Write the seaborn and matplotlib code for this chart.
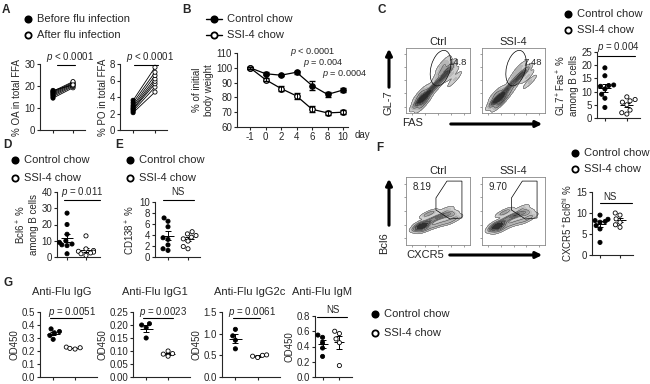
import numpy as np
import pandas as pd
import matplotlib
matplotlib.use("Agg")
import matplotlib.pyplot as plt
import seaborn as sns
from matplotlib.lines import Line2D
from matplotlib.patches import Ellipse, Polygon, FancyArrowPatch
from matplotlib.ticker import FormatStrFormatter
from matplotlib.colors import LinearSegmentedColormap

# =============================
# Data
# =============================

# A - fatty acids before / after flu infection (paired mice)
oa_before = [14.5, 15.2, 15.8, 16.3, 16.8, 17.2, 17.6, 18.0]
oa_after = [19.2, 19.8, 20.3, 20.8, 21.2, 21.6, 22.0, 20.5]
po_before = [2.1, 2.3, 2.5, 2.6, 2.8, 3.0, 3.3, 3.6]
po_after = [4.6, 5.2, 5.6, 5.9, 6.2, 6.6, 7.0, 7.6]

# B - body weight
days = ['-1', '0', '2', '4', '6', '8', '10']
bw_ctrl = [100, 96, 95, 97, 88, 82, 85]
bw_ctrl_sem = [0.5, 1.0, 0.8, 1.0, 3.0, 1.5, 1.5]
bw_ssi = [100, 92, 86, 81, 72, 69.5, 70]
bw_ssi_sem = [0.5, 1.2, 1.5, 2.0, 2.0, 1.2, 1.2]

# C - GL7+Fas+ among B cells
gc_ctrl = [19, 16, 12.5, 12.3, 12, 11, 9, 7.5, 4]
gc_ssi = [8, 7, 6.5, 6, 5, 3, 2, 1.5]

# D - Bcl6+ among B cells
bcl6_ctrl = [27, 20, 14, 10, 9, 8, 7.5, 7, 2]
bcl6_ssi = [13, 5, 4, 3.5, 3, 2.5, 2, 1]

# E - CD138+
cd138_ctrl = [7.1, 6.5, 5.5, 3.5, 3.2, 2.2, 1.5, 1.2]
cd138_ssi = [4.6, 4.2, 3.9, 3.6, 3.3, 2.9, 1.9, 1.5]

# F - CXCR5+Bcl6hi
tfh_ctrl = [9.5, 8.5, 8.2, 8.0, 7.8, 7.0, 6.2, 3.0]
tfh_ssi = [10.0, 9.5, 8.6, 7.8, 7.2, 6.6]

# G - anti-flu antibodies (OD450)
igg_ctrl = [0.37, 0.35, 0.34, 0.32, 0.29]
igg_ssi = [0.23, 0.225, 0.22, 0.215]
igg1_ctrl = [0.205, 0.20, 0.19, 0.15]
igg1_ssi = [0.10, 0.09, 0.088, 0.08]
igg2c_ctrl = [1.1, 0.95, 0.85, 0.65]
igg2c_ssi = [0.51, 0.50, 0.48, 0.45]
igm_ctrl = [0.55, 0.52, 0.45, 0.38, 0.27]
igm_ssi = [0.60, 0.57, 0.50, 0.45, 0.15]

# flow cytometry sketches (log-decade units 0-5)
gc_flow_ctrl_x = [1.0, 1.2, 1.3, 1.4, 1.5, 1.2, 1.6, 1.8, 2.0, 2.2, 2.5, 2.8, 3.0, 3.2, 3.4, 3.6, 3.0, 2.9, 3.3, 3.1, 1.1, 1.4, 2.4, 3.8, 2.6, 1.3, 1.2, 1.0]
gc_flow_ctrl_y = [0.9, 1.0, 1.2, 0.8, 1.1, 1.4, 1.3, 1.6, 1.9, 2.1, 2.4, 2.6, 2.9, 3.1, 3.3, 3.0, 3.6, 3.8, 3.5, 3.2, 1.5, 0.7, 2.0, 2.6, 3.0, 1.0, 1.1, 1.0]
gc_flow_ssi_x = [1.0, 1.2, 1.3, 1.4, 1.5, 1.2, 1.6, 1.8, 2.0, 2.2, 2.5, 2.8, 3.0, 3.2, 3.4, 3.6, 3.0, 3.3, 1.1, 1.4, 2.4, 3.8, 2.6, 1.7, 2.1, 1.3, 1.2, 1.0]
gc_flow_ssi_y = [0.9, 1.0, 1.2, 0.8, 1.1, 1.4, 1.3, 1.6, 1.9, 2.1, 2.4, 2.6, 2.9, 3.1, 3.2, 2.8, 3.5, 3.0, 1.5, 0.7, 2.0, 2.4, 2.9, 1.0, 1.5, 1.0, 1.1, 1.0]
tfh_flow_ctrl_x = [1.0, 1.2, 1.3, 1.1, 1.5, 1.4, 1.8, 2.1, 2.4, 2.7, 3.0, 3.3, 3.6, 3.9, 2.2, 2.8, 3.4, 1.6, 2.0, 3.2, 1.2, 1.3, 1.2, 1.1]
tfh_flow_ctrl_y = [1.3, 1.4, 1.2, 1.6, 1.5, 1.1, 1.7, 1.9, 2.0, 2.1, 2.2, 2.3, 2.2, 2.0, 1.4, 1.6, 1.7, 2.2, 2.4, 2.6, 1.3, 1.5, 1.4, 1.3]
tfh_flow_ssi_x = [1.0, 1.2, 1.3, 1.1, 1.5, 1.4, 1.8, 2.1, 2.4, 2.7, 3.0, 3.3, 3.6, 3.9, 2.2, 2.8, 3.4, 1.6, 2.0, 3.2, 1.2, 1.3, 1.2, 1.1]
tfh_flow_ssi_y = [1.3, 1.4, 1.2, 1.6, 1.5, 1.1, 1.8, 2.0, 2.1, 2.2, 2.3, 2.4, 2.3, 2.1, 1.5, 1.7, 1.8, 2.3, 2.5, 2.7, 1.3, 1.5, 1.4, 1.3]

# =============================
# Style
# =============================
sns.set_style('ticks')
plt.rcParams['font.family'] = ['Liberation Sans', 'DejaVu Sans']
plt.rcParams['mathtext.fontset'] = 'custom'
plt.rcParams['mathtext.rm'] = 'Liberation Sans'
plt.rcParams['mathtext.it'] = 'Liberation Sans:italic'
plt.rcParams['axes.linewidth'] = 0.8

flow_cmap = LinearSegmentedColormap.from_list('flow', ['#d8d8d8', '#909090', '#4a4a4a', '#151515'])

W, H = 650, 384
fig = plt.figure(figsize=(6.5, 3.84), dpi=100)


def add_ax(x0, y0, x1, y1):
    return fig.add_axes([x0 / W, 1 - y1 / H, (x1 - x0) / W, (y1 - y0) / H])


def ftext(x, y, s, **kw):
    kw.setdefault('fontsize', 7)
    kw.setdefault('va', 'center')
    fig.text(x / W, 1 - y / H, s, **kw)


def fline(x0, x1, y):
    fig.add_artist(Line2D([x0 / W, x1 / W], [1 - y / H] * 2, transform=fig.transFigure,
                          color='black', lw=0.8))


def fdot(x, y, filled=True, line=False):
    if line:
        fig.add_artist(Line2D([(x - 8) / W, (x + 8) / W], [1 - y / H] * 2,
                              transform=fig.transFigure, color='black', lw=1.0))
    fig.add_artist(Line2D([x / W], [1 - y / H], marker='o', ms=4.5, mew=1.3,
                          mfc='black' if filled else 'white', mec='black',
                          transform=fig.transFigure))


def legend2(x, y1, y2, t1, t2, line=False, size=8):
    fdot(x, y1, True, line)
    fdot(x, y2, False, line)
    off = 13 if line else 9
    ftext(x + off, y1, t1, fontsize=size)
    ftext(x + off, y2, t2, fontsize=size)


def farrow(x0, y0, x1, y1):
    fig.add_artist(FancyArrowPatch((x0 / W, 1 - y0 / H), (x1 / W, 1 - y1 / H),
                                   transform=fig.transFigure, arrowstyle='-|>',
                                   mutation_scale=9, lw=2.2, color='black'))


def style(ax, ylim, yticks, ylabel, fmt=None):
    ax.set_ylim(*ylim)
    ax.set_yticks(yticks)
    if fmt:
        ax.yaxis.set_major_formatter(FormatStrFormatter(fmt))
    ax.set_ylabel(ylabel, fontsize=7, labelpad=1.5)
    ax.set_xlabel('')
    ax.tick_params(labelsize=7, length=2.5, width=0.8, pad=1)
    sns.despine(ax=ax)


def dotplot(rect, ctrl, ssi, xlim, ylim, yticks, ylabel, fmt=None, size=3):
    ax = add_ax(*rect)
    df = pd.DataFrame({'group': ['Control'] * len(ctrl) + ['SSI-4'] * len(ssi),
                       'value': ctrl + ssi})
    sns.swarmplot(data=df, x='group', y='value', hue='group', order=['Control', 'SSI-4'],
                  palette={'Control': 'black', 'SSI-4': 'white'}, edgecolor='black',
                  linewidth=0.6, size=size, legend=False, ax=ax)
    for i, vals in enumerate([ctrl, ssi]):
        m = np.mean(vals)
        s = np.std(vals, ddof=1) / np.sqrt(len(vals))
        ax.hlines(m, i - 0.3, i + 0.3, color='black', lw=0.7)
        ax.errorbar(i, m, yerr=s, color='black', lw=0.7, capsize=2, capthick=0.7)
    ax.set_xlim(*xlim)
    ax.set_xticks([0, 1])
    ax.set_xticklabels([])
    style(ax, ylim, yticks, ylabel, fmt)
    return ax


def flow(rect, xs, ys, title):
    ax = add_ax(*rect)
    ax.scatter(xs, ys, s=0.8, color='#666666', lw=0)
    sns.kdeplot(x=xs, y=ys, fill=True, cmap=flow_cmap, levels=8, thresh=0.05,
                bw_adjust=0.7, ax=ax)
    sns.kdeplot(x=xs, y=ys, levels=5, thresh=0.05, bw_adjust=0.7, color='#333333',
                linewidths=0.3, ax=ax)
    ax.set_xlim(0, 5)
    ax.set_ylim(0, 5)
    ax.set_xticks([0.5, 1.5, 2.5, 3.5, 4.5])
    ax.set_yticks([0.5, 1.5, 2.5, 3.5, 4.5])
    ax.set_xticklabels([])
    ax.set_yticklabels([])
    ax.set_xlabel('')
    ax.set_ylabel('')
    ax.tick_params(length=1.5, width=0.5, color='#777')
    for s in ax.spines.values():
        s.set_color('#888')
        s.set_linewidth(0.6)
    ax.set_title(title, fontsize=8, pad=2)
    return ax


# =============================
# Panel A
# =============================
ftext(2, 10, 'A', fontsize=8.5, fontweight='bold')
legend2(28, 19, 35, 'Before flu infection', 'After flu infection')

for rect, before, after, ylim, yticks, ylab, xlim in [
        ((40, 64, 85, 130), oa_before, oa_after, (0, 30), [0, 10, 20, 30], '% OA in total FFA', (-0.65, 1.6)),
        ((120, 64, 167, 130), po_before, po_after, (0, 8), [0, 2, 4, 6, 8], '% PO in total FFA', (-0.6, 1.55))]:
    ax = add_ax(*rect)
    n = len(before)
    pdf = pd.DataFrame({'mouse': list(range(n)) * 2, 'time': [0] * n + [1] * n,
                        'value': before + after})
    sns.lineplot(data=pdf, x='time', y='value', units='mouse', estimator=None,
                 color='black', lw=0.6, ax=ax)
    sns.scatterplot(data=pdf, x='time', y='value', hue='time', palette={0: 'black', 1: 'white'},
                    edgecolor='black', linewidth=0.6, s=9, legend=False, ax=ax, zorder=3)
    ax.set_xlim(*xlim)
    ax.set_xticks([0, 1])
    ax.set_xticklabels([])
    style(ax, ylim, yticks, ylab)

ftext(70, 57, r'$p$ < 0.0001', ha='center')
fline(57, 75, 65)
ftext(150, 57, r'$p$ < 0.0001', ha='center')
fline(134, 158, 65)

# =============================
# Panel B
# =============================
ftext(182, 10, 'B', fontsize=8.5, fontweight='bold')
legend2(214, 19, 35, 'Control chow', 'SSI-4 chow', line=True)

ax = add_ax(237, 53, 348, 127)
day_pos = np.arange(len(days))
wdf = pd.DataFrame({'pos': list(day_pos) * 2, 'weight': bw_ctrl + bw_ssi,
                    'diet': ['Control chow'] * len(days) + ['SSI-4 chow'] * len(days)})
sns.lineplot(data=wdf[wdf.diet == 'Control chow'], x='pos', y='weight', color='black', lw=0.9,
             marker='o', markersize=4, markerfacecolor='black', markeredgecolor='black', ax=ax)
sns.lineplot(data=wdf[wdf.diet == 'SSI-4 chow'], x='pos', y='weight', color='black', lw=0.9,
             marker='o', markersize=4, markerfacecolor='white', markeredgecolor='black',
             markeredgewidth=0.9, ax=ax)
ax.errorbar(day_pos, bw_ctrl, yerr=bw_ctrl_sem, fmt='none', ecolor='black', elinewidth=0.7, capsize=2)
ax.errorbar(day_pos, bw_ssi, yerr=bw_ssi_sem, fmt='none', ecolor='black', elinewidth=0.7, capsize=2)
ax.set_xlim(-0.84, 6.32)
ax.set_xticks(day_pos)
ax.set_xticklabels(days)
style(ax, (60, 110), [60, 70, 80, 90, 100, 110], '% of initial\nbody weight')
ftext(355, 135, 'day', ha='left')
ftext(290, 52, r'$p$ < 0.0001', ha='left', fontsize=6.6)
ftext(303, 63, r'$p$ = 0.004', ha='left', fontsize=6.6)
ftext(322, 74, r'$p$ = 0.0004', ha='left', fontsize=6.6)

# =============================
# Panel C
# =============================
ftext(377, 10, 'C', fontsize=8.5, fontweight='bold')
legend2(568, 14, 30, 'Control chow', 'SSI-4 chow')

for rect, xs, ys, title, pct in [((406, 48, 470, 113), gc_flow_ctrl_x, gc_flow_ctrl_y, 'Ctrl', '14.8'),
                                  ((482, 48, 545, 113), gc_flow_ssi_x, gc_flow_ssi_y, 'SSI-4', '7.48')]:
    ax = flow(rect, xs, ys, title)
    ax.add_patch(Ellipse((2.7, 3.45), 1.5, 2.8, angle=-15, fill=False, ec='black', lw=0.5))
    ax.text(4.05, 3.85, pct, fontsize=6.8, ha='center', va='center')

farrow(389, 90, 389, 46)
ftext(389, 103, 'GL-7', rotation=90, ha='center', fontsize=8)
ftext(413, 123, 'FAS', ha='center', fontsize=8)
farrow(448, 124, 545, 124)

dotplot((597, 52, 640, 118), gc_ctrl, gc_ssi, (-0.36, 1.6), (0, 25), [0, 5, 10, 15, 20, 25],
        'GL7$^+$Fas$^+$ %\namong B cells')
ftext(618, 47, r'$p$ = 0.004', ha='center')
fline(598, 635, 56)

# =============================
# Panel D
# =============================
ftext(3, 145, 'D', fontsize=8.5, fontweight='bold')
legend2(15, 160, 178, 'Control chow', 'SSI-4 chow')
dotplot((57, 192, 100, 257), bcl6_ctrl, bcl6_ssi, (-0.53, 1.74), (0, 40), [0, 10, 20, 30, 40],
        'Bcl6$^+$ %\namong B cells')
ftext(82, 192, r'$p$ = 0.011', ha='center')
fline(64, 100, 200)

# =============================
# Panel E
# =============================
ftext(115, 145, 'E', fontsize=8.5, fontweight='bold')
legend2(130, 160, 178, 'Control chow', 'SSI-4 chow')
dotplot((155, 202, 200, 257), cd138_ctrl, cd138_ssi, (-0.65, 1.6), (0, 10), [0, 2, 4, 6, 8, 10],
        'CD138$^+$ %')
ftext(178, 192, 'NS', ha='center')
fline(163, 194, 200)

# =============================
# Panel F
# =============================
ftext(376, 148, 'F', fontsize=8.5, fontweight='bold')
legend2(575, 153, 169, 'Control chow', 'SSI-4 chow')

gate = [(2.34, 3.46), (3.2, 4.7), (4.37, 4.7), (4.37, 1.99), (3.44, 1.91), (2.34, 2.57)]
for rect, xs, ys, title, pct in [((406, 177, 470, 245), tfh_flow_ctrl_x, tfh_flow_ctrl_y, 'Ctrl', '8.19'),
                                  ((482, 177, 545, 245), tfh_flow_ssi_x, tfh_flow_ssi_y, 'SSI-4', '9.70')]:
    ax = flow(rect, xs, ys, title)
    ax.add_patch(Polygon(gate, closed=True, fill=False, ec='black', lw=0.5))
    ax.text(1.25, 4.3, pct, fontsize=7, ha='center', va='center')

farrow(389, 228, 389, 176)
ftext(384, 243, 'Bcl6', rotation=90, ha='center', fontsize=8)
ftext(425, 255, 'CXCR5', ha='center', fontsize=8)
farrow(447, 255, 545, 255)

dotplot((592, 192, 633, 255), tfh_ctrl, tfh_ssi, (-0.4, 1.65), (0, 15), [0, 5, 10, 15],
        'CXCR5$^+$Bcl6$^{\\mathrm{hi}}$ %')
ftext(610, 197, 'NS', ha='center')
fline(600, 632, 203)

# =============================
# Panel G
# =============================
ftext(4, 283, 'G', fontsize=8.5, fontweight='bold')
legend2(375, 314, 333, 'Control chow', 'SSI-4 chow')

g_panels = [
    ((40, 312, 97, 377), igg_ctrl, igg_ssi, (0, 0.5), [0, 0.1, 0.2, 0.3, 0.4, 0.5], '%.1f', 'Anti-Flu IgG'),
    ((133, 312, 190, 377), igg1_ctrl, igg1_ssi, (0, 0.25), [0, 0.05, 0.1, 0.15, 0.2, 0.25], '%.2f', 'Anti-Flu IgG1'),
    ((222, 312, 280, 377), igg2c_ctrl, igg2c_ssi, (0, 1.5), [0, 0.5, 1.0, 1.5], '%.1f', 'Anti-Flu IgG2c'),
    ((315, 316, 352, 377), igm_ctrl, igm_ssi, (0, 0.8), [0, 0.2, 0.4, 0.6, 0.8], '%.1f', 'Anti-Flu IgM'),
]
for rect, c, s, ylim, yticks, fmt, title in g_panels:
    xlim = (-0.45, 1.75) if title.endswith('IgM') else (-0.6, 2.0)
    dotplot(rect, c, s, xlim, ylim, yticks, 'OD450', fmt)

ftext(62, 292, 'Anti-Flu IgG', ha='center', fontsize=8)
ftext(155, 292, 'Anti-Flu IgG1', ha='center', fontsize=8)
ftext(250, 292, 'Anti-Flu IgG2c', ha='center', fontsize=8)
ftext(322, 292, 'Anti-Flu IgM', ha='center', fontsize=8)

ftext(72, 312, r'$p$ = 0.0051', ha='center')
fline(50, 82, 318)
ftext(163, 312, r'$p$ = 0.0023', ha='center')
fline(143, 173, 318)
ftext(252, 312, r'$p$ = 0.0061', ha='center')
fline(233, 260, 318)
ftext(333, 310, 'NS', ha='center')
fline(317, 347, 317)

fig.savefig('out.png', dpi=100)
